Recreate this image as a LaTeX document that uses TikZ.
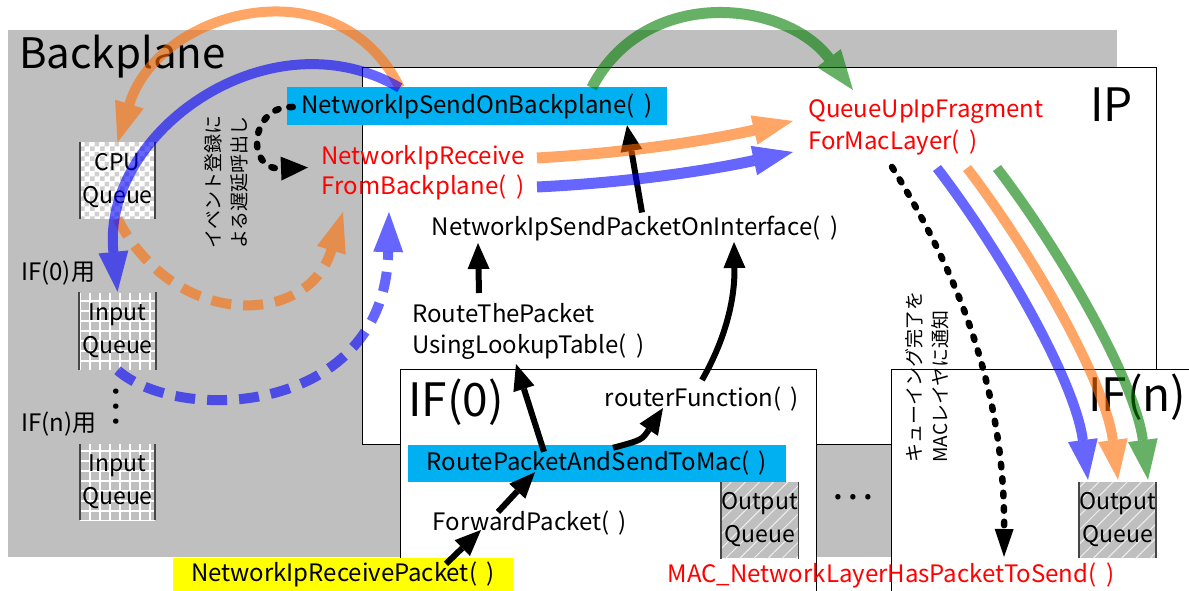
\documentclass[tikz,border=0pt]{standalone}
\usepackage{fontspec}
\setmainfont{Noto Sans CJK JP}
\usetikzlibrary{arrows.meta,patterns,patterns.meta,calc}

\definecolor{bpgray}{RGB}{191,191,191}
\definecolor{hlcyan}{RGB}{0,176,240}
\definecolor{hlyellow}{RGB}{255,255,0}
\definecolor{fnred}{RGB}{255,0,0}
\definecolor{flowor}{RGB}{255,108,0}
\definecolor{flowbl}{RGB}{0,0,255}
\definecolor{flowgr}{RGB}{0,125,0}
\definecolor{chk}{RGB}{208,208,208}
\definecolor{qedge}{RGB}{70,70,70}

% empty argument list of a function name
\newcommand{\noargs}{(\hspace{0.4em})}

% 5pt checkerboard used for the CPU queue
\pgfdeclarepatternformonly{qchecker}{\pgfpointorigin}{\pgfpoint{10pt}{10pt}}{\pgfpoint{10pt}{10pt}}{%
  \pgfpathrectangle{\pgfpointorigin}{\pgfpoint{5pt}{5pt}}%
  \pgfpathrectangle{\pgfpoint{5pt}{5pt}}{\pgfpoint{5pt}{5pt}}%
  \pgfusepath{fill}}

\tikzset{
  lbl/.style={inner sep=0pt, font=\fontsize{24}{30}\selectfont, align=center},
  fnlbl/.style={lbl, text=fnred},
  bigttl/.style={inner sep=0pt, font=\fontsize{46}{52}\selectfont},
  jvert/.style={inner sep=0pt, rotate=90, align=left, font=\fontsize{19}{26}\selectfont},
  hlbox/.style={inner sep=0pt, minimum height=38pt, font=\fontsize{24}{30}\selectfont},
  queue/.style={inner sep=0pt, minimum width=75pt, minimum height=76pt, align=center, font=\fontsize{23}{33}\selectfont},
  cpuq/.style={queue, preaction={fill=white}, pattern=qchecker, pattern color=chk},
  inq/.style={queue, preaction={fill=bpgray}, pattern={Hatch[angle=0,distance=10pt,line width=2.5pt]}, pattern color=white},
  outq/.style={queue, preaction={fill=bpgray}, pattern={Lines[angle=45,distance=10pt,line width=1pt]}, pattern color=white!75!bpgray},
  qside/.style={line width=1.6pt, draw=qedge},
  frame/.style={line width=0.8pt, draw=black},
  flow/.style={line width=11pt, opacity=0.6, -{Triangle[length=40pt,width=30pt,line width=0pt]}},
  flowdash/.style={flow, line width=10pt, dash pattern=on 20pt off 12pt},
  call/.style={line width=6pt, -{Triangle[length=26pt,width=22pt,line width=0pt]}},
  notify/.style={line width=6.5pt, dash pattern=on 3.5pt off 11pt, line cap=round},
}

\begin{document}
\begin{tikzpicture}[x=1pt,y=-1pt]
\useasboundingbox (0,0) rectangle (1189,591);
\fill[white] (0,0) rectangle (1189,591);

% layers: backplane, IP, interfaces
\fill[bpgray] (8,30) rectangle (1117,557);
\filldraw[frame, fill=white] (362,67) rectangle (1156,444);
\fill[white] (400,369) rectangle (816,591);
\draw[frame] (400,591) -- (400,369) -- (816,369) -- (816,591);
\fill[white] (891,369) rectangle (1189,591);
\draw[frame] (891,591) -- (891,369) -- (1189,369);

\node[bigttl, font=\fontsize{42}{50}\selectfont, anchor=west] (bptitle) at (19,57) {Backplane};
\node[bigttl, anchor=west] (iptitle) at (1090,105) {IP};
\node[bigttl, anchor=west] (if0title) at (408,402) {IF(0)};
\node[bigttl, anchor=west] (ifntitle) at (1088,397) {IF(n)};

% queues
\node[cpuq] (cpu) at (117.5,180.5) {CPU\\Queue};
\node[inq] (inq0) at (117.5,331) {Input\\Queue};
\node[inq] (inqn) at (117.5,482) {Input\\Queue};
\node[outq] (outq0) at (759.5,520) {Output\\Queue};
\node[outq] (outqn) at (1117.5,520) {Output\\Queue};
\foreach \q in {cpu,inq0,inqn,outq0,outqn}{
  \draw[qside] (\q.north west) -- (\q.south west);
  \draw[qside] (\q.north east) -- (\q.south east);
}
\node[lbl, anchor=west] (if0use) at (21,273) {IF(0)用};
\node[lbl, anchor=west] (ifnuse) at (21,424) {IF(n)用};
\node[inner sep=0pt, rotate=90, font=\fontsize{40}{40}\selectfont] (vdots) at (116,407) {…};
\node[inner sep=0pt, font=\fontsize{40}{40}\selectfont] (hdots) at (853,497) {…};

% functions
\node[hlbox, fill=hlcyan, minimum width=380pt] (sendbp) at (477,106) {NetworkIpSendOnBackplane\noargs};
\node[fnlbl] (recv) at (423,172.5) {NetworkIpReceive\\FromBackplane\noargs};
\node[lbl] (sendif) at (635,228.5) {NetworkIpSendPacketOnInterface\noargs};
\node[lbl, align=left, anchor=west, font=\fontsize{24}{31}\selectfont] (route) at (412,331.5) {RouteThePacket\\UsingLookupTable\noargs};
\node[fnlbl, align=left, anchor=west, font=\fontsize{24}{32}\selectfont] (queue) at (808,127) {QueueUpIpFragment\\ForMacLayer\noargs};
\node[lbl] (router) at (702,399) {routerFunction\noargs};
\node[hlbox, fill=hlcyan, minimum width=378pt, minimum height=37pt] (rpsm) at (597,463.5) {RoutePacketAndSendToMac\noargs};
\node[lbl] (fwd) at (530,523) {ForwardPacket\noargs};
\node[hlbox, fill=hlyellow, minimum width=340pt, minimum height=33pt] (nirp) at (343,574.5) {NetworkIpReceivePacket\noargs};
\node[fnlbl] (mac) at (891,575) {MAC\_NetworkLayerHasPacketToSend\noargs};

\node[jvert] (evnote) at (226,182) {イベント登録に\\よる遅延呼出し};
\node[jvert] (mqnote) at (927,377) {キューイング完了を\\MACレイヤに通知};

% function calls
\draw[call] ($(sendif.center)+(7,-16)$) -- ($(sendbp.south)+(150,0)$);
\draw[call] ($(route.west)+(67,-38.5)$) -- ($(sendif.center)+(-157,14.5)$);
\draw[call] ($(rpsm.north)+(-53,7)$) -- ($(route.west)+(104,32.5)$);
\draw[call] ($(rpsm.north)+(16,3)$) .. controls (642,440) .. ($(router.center)+(-39,9)$);
\draw[call] ($(router.center)+(0,-19)$) .. controls (725,340) and (735,300) .. ($(sendif.center)+(99,13.5)$);
\draw[call] ($(fwd.center)+(-32,-11)$) -- ($(rpsm.south)+(-62,-10)$);
\draw[call] ($(nirp.north)+(103,6)$) -- ($(fwd.center)+(-49,7)$);

% deferred calls
\draw[notify, -{Triangle[length=27pt,width=24pt,line width=0pt]}] ($(sendbp.west)+(6,1)$) .. controls (250,105) and (245,170) .. ($(recv.center)+(-115,-5)$);
\draw[notify, -{Triangle[length=28pt,width=19pt,line width=0pt]}] ($(queue.west)+(84,40)$) .. controls (950,260) and (1005,380) .. ($(mac.center)+(113,-18)$);

% packet flows
\draw[flowdash, flowor] (cpu.south) .. controls (175,330) and (308,327) .. ($(recv.center)+(-80,39.5)$);
\draw[flowdash, flowbl] (inq0.south) .. controls (180,425) and (385,415) .. ($(recv.center)+(-34,39.5)$);
\draw[flow, flowor, line width=10pt] ($(sendbp.north west)+(113,1)$) .. controls (338,-38) and (159,9) .. (cpu.north);
\draw[flow, flowbl, line width=10pt] ($(sendbp.north west)+(113,1)$) .. controls (270,12) and (101,132) .. (inq0.north);
\draw[flow, flowgr] ($(sendbp.north west)+(305,1)$) .. controls (645,-15) and (785,0) .. ($(queue.west)+(45,-37)$);
\draw[flow, flowor] ($(recv.center)+(114,-14.5)$) .. controls (640,152) and (720,138) .. ($(queue.west)+(-15,-6)$);
\draw[flow, flowbl] ($(recv.center)+(114,14.5)$) .. controls (640,182) and (720,168) .. ($(queue.west)+(-15,25)$);
\draw[flow, flowbl, line width=10pt] ($(queue.west)+(129,41)$) .. controls (1000,250) and (1075,380) .. ($(outqn.north)+(-29.5,-2)$);
\draw[flow, flowor, line width=10pt] ($(queue.west)+(159,41)$) .. controls (1030,250) and (1105,380) .. ($(outqn.north)+(0.5,-2)$);
\draw[flow, flowgr, line width=10pt] ($(queue.west)+(189,41)$) .. controls (1060,250) and (1135,380) .. ($(outqn.north)+(30.5,-2)$);
\end{tikzpicture}
\end{document}
